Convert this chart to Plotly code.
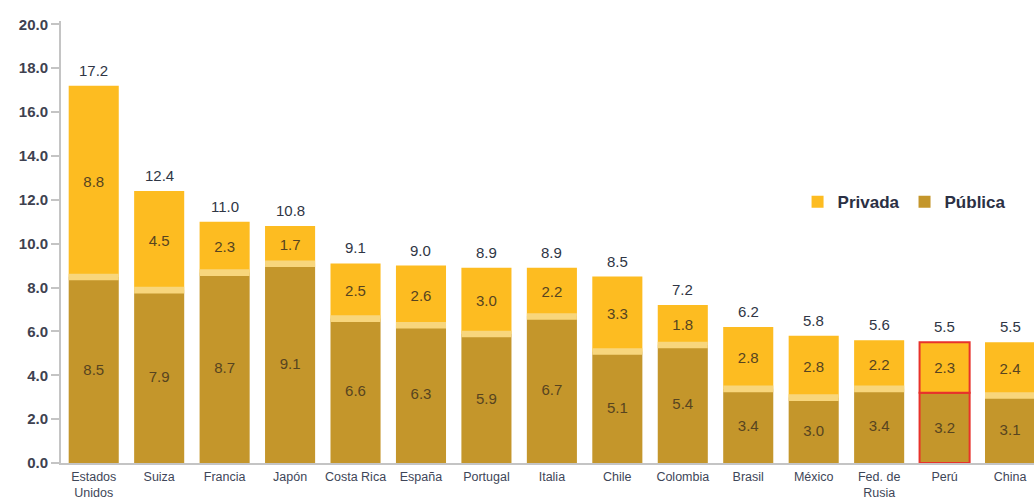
import plotly.graph_objects as go

categories = ["Estados<br>Unidos", "Suiza", "Francia", "Japón", "Costa Rica", "España",
              "Portugal", "Italia", "Chile", "Colombia", "Brasil", "México",
              "Fed. de<br>Rusia", "Perú", "China"]
total = [17.2, 12.4, 11.0, 10.8, 9.1, 9.0, 8.9, 8.9, 8.5, 7.2, 6.2, 5.8, 5.6, 5.5, 5.5]
publica = [8.5, 7.9, 8.7, 9.1, 6.6, 6.3, 5.9, 6.7, 5.1, 5.4, 3.4, 3.0, 3.4, 3.2, 3.1]
privada = [8.8, 4.5, 2.3, 1.7, 2.5, 2.6, 3.0, 2.2, 3.3, 1.8, 2.8, 2.8, 2.2, 2.3, 2.4]
highlight = "Perú"

FONT = "Liberation Sans, Arial, sans-serif"
C_PRIV = "#FDBC21"
C_PUB = "#C4962B"
C_STRIPE = "#F8D67C"
C_INTXT = "#574420"

x = list(range(len(categories)))
is_hl = [c == highlight for c in categories]
line_col = ["#E8322B" if h else "rgba(0,0,0,0)" for h in is_hl]
line_w = [2 if h else 0 for h in is_hl]
bw = 0.765

fig = go.Figure()
fig.add_trace(go.Bar(
    x=x, y=publica, base=[0] * len(x), name="Pública", width=bw,
    marker=dict(color=C_PUB, line=dict(color=line_col, width=line_w)),
    text=[f"{v:.1f}" for v in publica], textposition="inside",
    insidetextanchor="middle", constraintext="none",
    textfont=dict(family=FONT, size=15, color=C_INTXT),
    hoverinfo="skip", legendrank=2,
))
fig.add_trace(go.Bar(
    x=x, y=[t - p for t, p in zip(total, publica)], base=publica, name="Privada", width=bw,
    marker=dict(color=C_PRIV, line=dict(color=line_col, width=line_w)),
    text=[f"{v:.1f}" for v in privada], textposition="inside",
    insidetextanchor="middle", constraintext="none",
    textfont=dict(family=FONT, size=15, color=C_INTXT),
    hoverinfo="skip", legendrank=1,
))
# light separator between the two segments
fig.add_trace(go.Bar(
    x=[xi for xi, h in zip(x, is_hl) if not h],
    y=[0.3 for h in is_hl if not h],
    base=[p - 0.17 for p, h in zip(publica, is_hl) if not h],
    width=bw, marker=dict(color=C_STRIPE, line=dict(width=0)),
    showlegend=False, hoverinfo="skip",
))

for xi, t in zip(x, total):
    fig.add_annotation(x=xi, y=t, text=f"{t:.1f}", showarrow=False,
                       yanchor="bottom", yshift=5,
                       font=dict(family=FONT, size=15, color="#2f3645"))

fig.update_layout(
    width=1034, height=502, barmode="overlay",
    margin=dict(l=61, r=0, t=21, b=39),
    paper_bgcolor="white", plot_bgcolor="white",
    font=dict(family=FONT),
    legend=dict(orientation="h", x=0.757, y=0.59, xanchor="left", yanchor="middle",
                font=dict(family=FONT, size=17, color="#2b3044", weight="bold"),
                itemwidth=30, traceorder="normal", bgcolor="rgba(0,0,0,0)"),
    showlegend=True,
)
fig.update_xaxes(
    range=[-0.5, 14.366], tickmode="array", tickvals=x, ticktext=categories,
    showline=True, linecolor="#c4c4c4", linewidth=2, showgrid=False, zeroline=False,
    ticks="outside", ticklen=1, tickcolor="rgba(0,0,0,0)", automargin=False,
    tickfont=dict(family=FONT, size=12.5, color="#3e4658"), tickangle=0,
)
fig.update_yaxes(
    range=[0, 20.15], tickmode="array", tickvals=[0, 2, 4, 6, 8, 10, 12, 14, 16, 18, 20],
    ticktext=[f"{v:.1f}" for v in [0, 2, 4, 6, 8, 10, 12, 14, 16, 18, 20]],
    showline=True, linecolor="#c4c4c4", linewidth=2, showgrid=False, zeroline=False,
    ticks="outside", ticklen=8, tickcolor="#c4c4c4", tickwidth=1.5, automargin=False,
    tickfont=dict(family=FONT, size=15, color="#3e4150", weight="bold"),
)

fig.write_html("out.html")
